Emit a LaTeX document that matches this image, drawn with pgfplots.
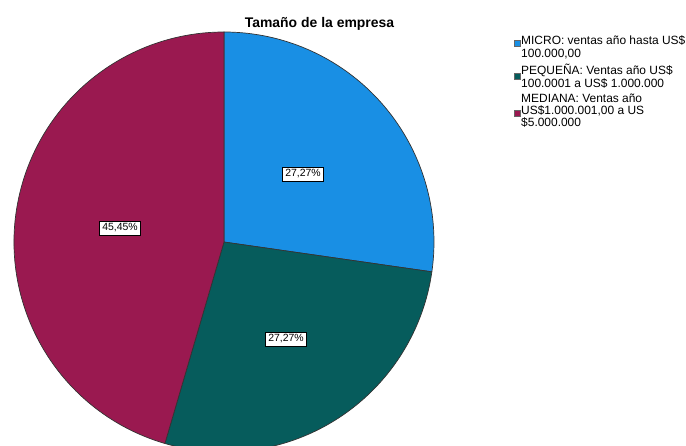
\documentclass[border=0pt]{standalone}
\usepackage{pgfplots}
\pgfplotsset{compat=1.18}
\usepackage{fontspec}
\setmainfont{Liberation Sans}
\definecolor{cmicro}{RGB}{25,143,228}
\definecolor{cpeq}{RGB}{6,92,92}
\definecolor{cmed}{RGB}{154,25,80}
\begin{document}
\begin{tikzpicture}
\begin{axis}[scale only axis, width=686bp, height=446bp,
  xmin=0, xmax=686, ymin=0, ymax=446, hide axis, clip=false]
% shares (%): MICRO 27.27, PEQUENA 27.27, MEDIANA 45.45 ; start at 90 deg, clockwise
% angles: 90 -> 90-27.27*3.6 = -8.17 -> -8.17-27.27*3.6 = -106.35 -> -270
\fill[cmicro, draw=black!80, line width=0.7bp] (axis cs:224,204) -- ++(90:210bp)
  arc[start angle=90, end angle=-8.17, radius=210bp] -- cycle;
\fill[cpeq, draw=black!80, line width=0.7bp] (axis cs:224,204) -- ++(-8.17:210bp)
  arc[start angle=-8.17, end angle=-106.35, radius=210bp] -- cycle;
\fill[cmed, draw=black!80, line width=0.7bp] (axis cs:224,204) -- ++(-106.35:210bp)
  arc[start angle=-106.35, end angle=-270, radius=210bp] -- cycle;
% value labels
\tikzset{vlab/.style={draw=black, fill=white, inner xsep=3bp, inner ysep=0bp, minimum height=14bp, line width=0.6bp, font=\fontsize{10.5}{11}\selectfont}}
\node[vlab] at (axis cs:303,272) {27,27\%};
\node[vlab] at (axis cs:286,107) {27,27\%};
\node[vlab] at (axis cs:120,218) {45,45\%};
% title
\node[font=\bfseries\fontsize{14}{16}\selectfont, anchor=base] at (axis cs:319.5,418) {Tamaño de la empresa};
% legend
\tikzset{lsq/.style={draw=black!60, line width=0.4bp, minimum size=6.5bp, inner sep=0pt},
         ltx/.style={anchor=base west, inner sep=0pt, font=\fontsize{12}{13}\selectfont}}
\node[lsq, fill=cmicro] at (axis cs:517,403) {};
\node[lsq, fill=cpeq] at (axis cs:517,370) {};
\node[lsq, fill=cmed] at (axis cs:517,333) {};
\node[ltx] at (axis cs:521,401) {MICRO: ventas año hasta US\$};
\node[ltx] at (axis cs:521,388) {100.000,00};
\node[ltx] at (axis cs:521,371) {PEQUEÑA: Ventas año US\$};
\node[ltx] at (axis cs:521,358) {100.0001 a US\$ 1.000.000};
\node[ltx] at (axis cs:521,343) {MEDIANA: Ventas año};
\node[ltx] at (axis cs:521,331) {US\$1.000.001,00 a US};
\node[ltx] at (axis cs:521,319) {\$5.000.000};
\end{axis}
\pgfresetboundingbox
\path[use as bounding box] (0,0) rectangle (686bp,446bp);
\end{tikzpicture}
\end{document}
